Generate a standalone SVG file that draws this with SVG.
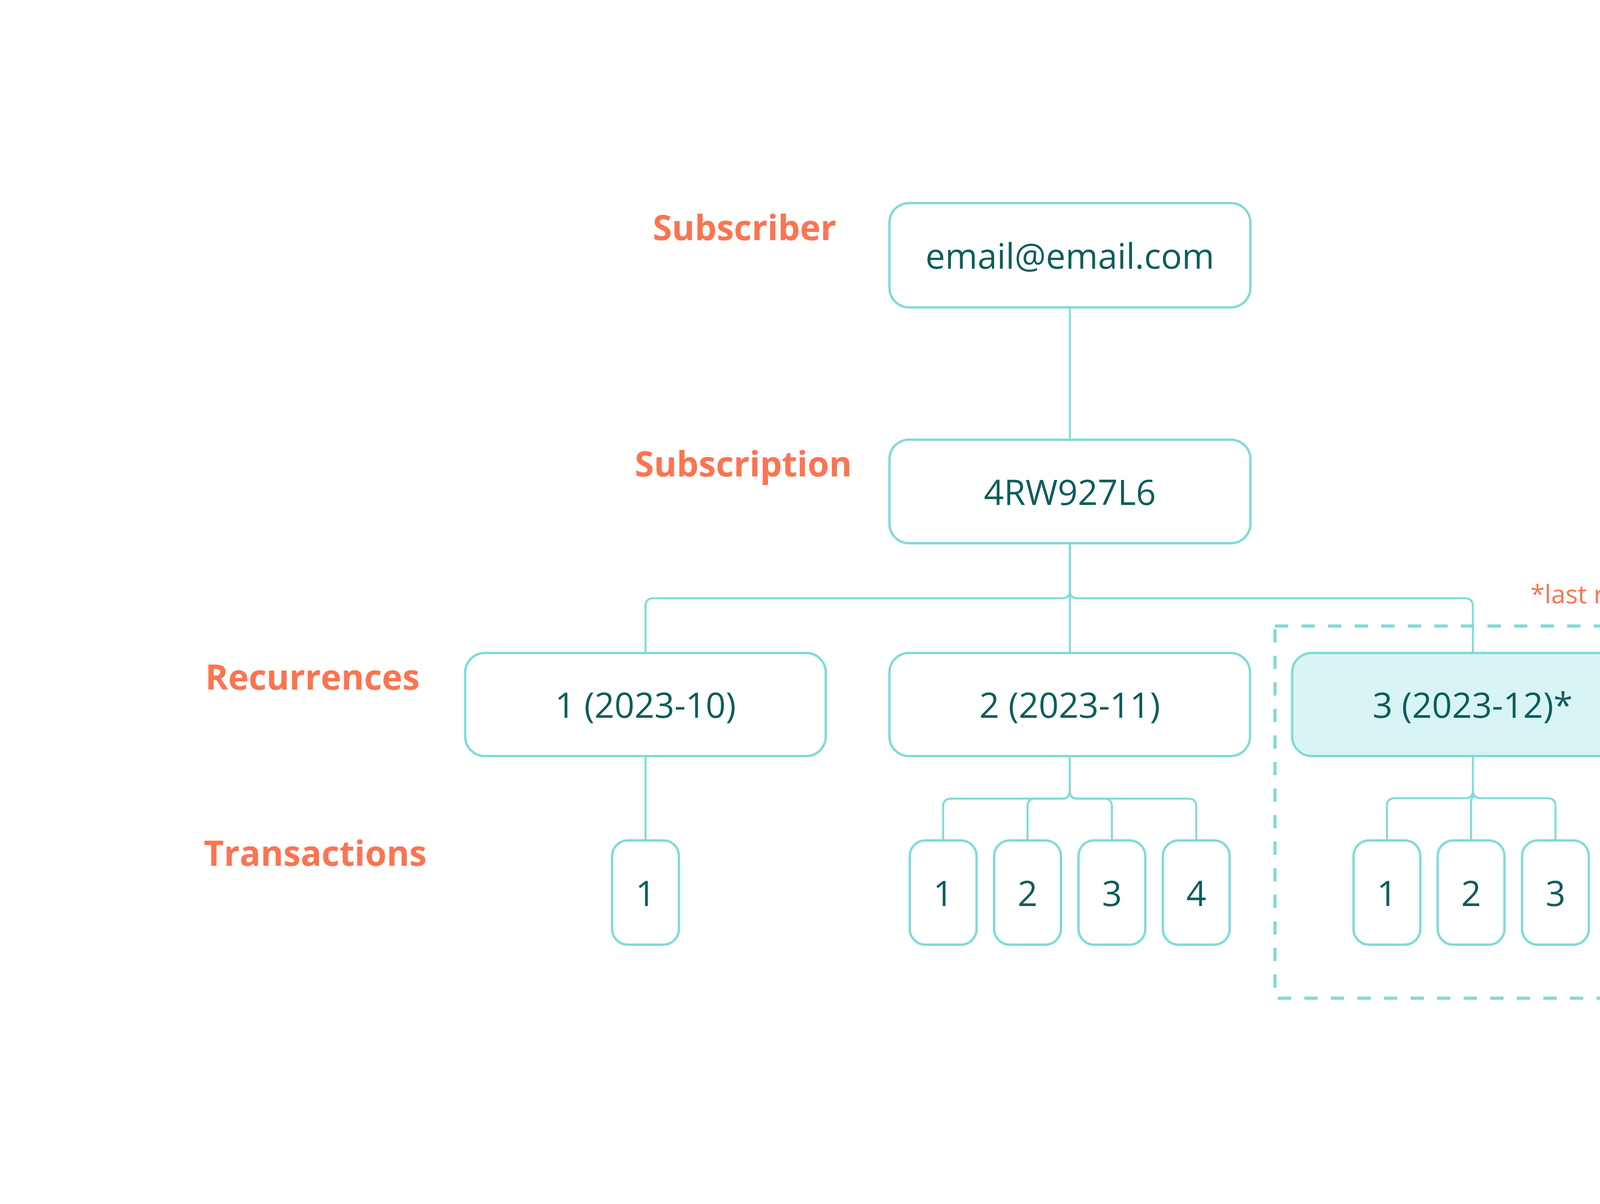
<svg xmlns="http://www.w3.org/2000/svg" width="5189" height="3083" viewBox="0 0 5189 3083">
<style>
.box{fill:#ffffff;stroke:#7fdbd8;stroke-width:6}
.last{fill:#d8f4f3}
.nt{font-family:"Open Sans","Noto Sans","DejaVu Sans",sans-serif;font-size:89.5px;fill:#0b5e5b;text-anchor:middle}
.lbl{font-family:"Open Sans","Noto Sans","DejaVu Sans",sans-serif;font-size:88.8px;font-weight:700;fill:#fb7452;text-anchor:middle}
.note{font-family:"Open Sans","Noto Sans","DejaVu Sans",sans-serif;font-size:66px;fill:#fb7452;text-anchor:middle}
.con{fill:none;stroke:#7fdbd8;stroke-width:5}
.dash{fill:none;stroke:#7fdbd8;stroke-width:8;stroke-dasharray:34 34}
.dot{fill:#eef7fc;stroke:#7fdbd8;stroke-width:5.5}
</style>
<rect width="5189" height="3083" fill="#ffffff"/>
<g id="labels">
<text class="lbl" x="1906" y="615">Subscriber</text>
<text class="lbl" x="1903" y="1220">Subscription</text>
<text class="lbl" x="800" y="1766">Recurrences</text>
<text class="lbl" x="807" y="2217">Transactions</text>
<text class="note" x="4167" y="1545">*last recurrence</text>
</g>
<g id="connectors">
<path class="con" d="M2739 790 V1123"/>
<path class="con" d="M2739 1394 V1512 Q2739 1532 2719 1532 H1672.5 Q1652.5 1532 1652.5 1552 V1669"/>
<path class="con" d="M2739 1394 V1669"/>
<path class="con" d="M2739 1394 V1512 Q2739 1532 2759 1532 H3750.5 Q3770.5 1532 3770.5 1552 V1669"/>
<path class="con" d="M1652.5 1938 V2149"/>
<path class="con" d="M2738.5 1938 V2025 Q2738.5 2045 2718.5 2045 H2434.5 Q2414.5 2045 2414.5 2065 V2149"/>
<path class="con" d="M2738.5 1938 V2025 Q2738.5 2045 2718.5 2045 H2650.5 Q2630.5 2045 2630.5 2065 V2149"/>
<path class="con" d="M2738.5 1938 V2025 Q2738.5 2045 2758.5 2045 H2826.5 Q2846.5 2045 2846.5 2065 V2149"/>
<path class="con" d="M2738.5 1938 V2025 Q2738.5 2045 2758.5 2045 H3042.5 Q3062.5 2045 3062.5 2065 V2149"/>
<path class="con" d="M3770.5 1939 V2024 Q3770.5 2044 3750.5 2044 H3570.5 Q3550.5 2044 3550.5 2064 V2149"/>
<path class="con" d="M3770.5 1939 V2040 L3766 2049 V2149"/>
<path class="con" d="M3770.5 1939 V2024 Q3770.5 2044 3790.5 2044 H3962 Q3982 2044 3982 2064 V2149"/>
</g>
<g id="last-recurrence-frame">
<rect class="dash" x="3264" y="1603" width="1074" height="953"/>
</g>
<g id="subscriber">
<rect class="box" x="2277" y="520" width="924" height="267" rx="50"/>
<text class="nt" x="2739" y="688">email@email.com</text>
</g>
<g id="subscription">
<rect class="box" x="2277" y="1126" width="924" height="265" rx="50"/>
<text class="nt" x="2739" y="1293">4RW927L6</text>
</g>
<g id="recurrence-1">
<rect class="box" x="1191" y="1672" width="923" height="264" rx="50"/>
<text class="nt" x="1652.5" y="1838">1 (2023-10)</text>
</g>
<g id="recurrence-2">
<rect class="box" x="2277" y="1672" width="923" height="264" rx="50"/>
<text class="nt" x="2738.5" y="1838">2 (2023-11)</text>
</g>
<g id="recurrence-3">
<rect class="box last" x="3308" y="1672" width="924" height="264" rx="50"/>
<text class="nt" x="3770" y="1838">3 (2023-12)*</text>
</g>
<g id="r1-transaction-1">
<rect class="box" x="1567" y="2152" width="171" height="267" rx="40"/>
<text class="nt" x="1652.5" y="2320">1</text>
</g>
<g id="r2-transaction-1">
<rect class="box" x="2329" y="2152" width="171" height="267" rx="40"/>
<text class="nt" x="2414.5" y="2320">1</text>
</g>
<g id="r2-transaction-2">
<rect class="box" x="2545" y="2152" width="171" height="267" rx="40"/>
<text class="nt" x="2630.5" y="2320">2</text>
</g>
<g id="r2-transaction-3">
<rect class="box" x="2761" y="2152" width="171" height="267" rx="40"/>
<text class="nt" x="2846.5" y="2320">3</text>
</g>
<g id="r2-transaction-4">
<rect class="box" x="2977" y="2152" width="171" height="267" rx="40"/>
<text class="nt" x="3062.5" y="2320">4</text>
</g>
<g id="r3-transaction-1">
<rect class="box" x="3465" y="2152" width="171" height="267" rx="40"/>
<text class="nt" x="3550.5" y="2320">1</text>
</g>
<g id="r3-transaction-2">
<rect class="box" x="3680.5" y="2152" width="171" height="267" rx="40"/>
<text class="nt" x="3766" y="2320">2</text>
</g>
<g id="r3-transaction-3">
<rect class="box" x="3896.5" y="2152" width="171" height="267" rx="40"/>
<text class="nt" x="3982" y="2320">3</text>
</g>
<g id="more">
<circle class="dot" cx="4432" cy="1804" r="18"/>
<circle class="dot" cx="4537.5" cy="1804" r="18"/>
<circle class="dot" cx="4643" cy="1804" r="18"/>
</g>
</svg>
